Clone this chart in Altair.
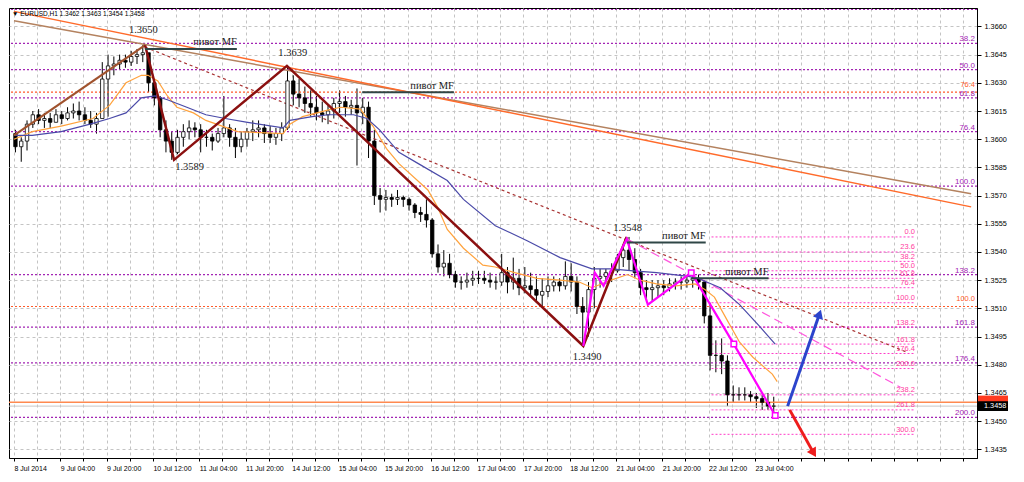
import altair as alt
import pandas as pd

# ---------------- layout ----------------
W, H = 968, 450
X_DOMAIN = [0, 331]
Y_DOMAIN = [1.34304, 1.36698]
FONT = "Liberation Sans, Arial, sans-serif"
SERIF = "Liberation Serif, DejaVu Serif, serif"

# ---------------- data ----------------
title_text = "\u25BC EURUSD,H1  1.3462 1.3463 1.3454 1.3458"

x_tick_labels = ["8 Jul 2014", "9 Jul 04:00", "9 Jul 20:00", "10 Jul 12:00", "11 Jul 04:00",
                 "11 Jul 20:00", "14 Jul 12:00", "15 Jul 04:00", "15 Jul 20:00", "16 Jul 12:00",
                 "17 Jul 04:00", "17 Jul 20:00", "18 Jul 12:00", "21 Jul 04:00", "21 Jul 20:00",
                 "22 Jul 12:00", "23 Jul 04:00"]
y_ticks = [1.3435, 1.3450, 1.3465, 1.3480, 1.3495, 1.3510, 1.3525, 1.3540,
           1.3555, 1.3570, 1.3585, 1.3600, 1.3615, 1.3630, 1.3645, 1.3660]

# price bars (2-hour steps)
high = [1.3605, 1.3601, 1.3610, 1.3615, 1.3616, 1.3614, 1.3614, 1.3616, 1.3615, 1.3617,
        1.3619, 1.3620, 1.3617, 1.3615, 1.3614, 1.3641, 1.3645, 1.3644, 1.3645, 1.3645,
        1.3647, 1.3648, 1.3650, 1.3645, 1.3632, 1.3623, 1.3610, 1.3604, 1.3605, 1.3608,
        1.3610, 1.3609, 1.3608, 1.3605, 1.3603, 1.3606, 1.3623, 1.3608, 1.3606, 1.3604,
        1.3606, 1.3610, 1.3610, 1.3608, 1.3607, 1.3606, 1.3609, 1.3639, 1.3634, 1.3632,
        1.3628, 1.3626, 1.3623, 1.3620, 1.3618, 1.3622, 1.3626, 1.3623, 1.3621, 1.3627,
        1.3622, 1.3620, 1.3605, 1.3574, 1.3573, 1.3571, 1.3573, 1.3570, 1.3569, 1.3566,
        1.3564, 1.3568, 1.3558, 1.3544, 1.3541, 1.3539, 1.3530, 1.3527, 1.3529, 1.3530,
        1.3530, 1.3530, 1.3529, 1.3527, 1.3539, 1.3532, 1.3537, 1.3531, 1.3532, 1.3529,
        1.3527, 1.3526, 1.3527, 1.3527, 1.3526, 1.3535, 1.3534, 1.3527, 1.3516, 1.3524,
        1.3532, 1.3531, 1.3531, 1.3534, 1.3539, 1.3544, 1.3548, 1.3542, 1.3531, 1.3525,
        1.3525, 1.3525, 1.3525, 1.3526, 1.3526, 1.3527, 1.3527, 1.3529, 1.3528, 1.3525,
        1.3513, 1.3493, 1.3494, 1.3485, 1.3469, 1.3468, 1.3468, 1.3466, 1.3465, 1.3464,
        1.3465, 1.3463]
low = [1.3593, 1.3588, 1.3594, 1.3606, 1.3608, 1.3606, 1.3606, 1.3609, 1.3608, 1.3610,
       1.3611, 1.3610, 1.3608, 1.3606, 1.3603, 1.3615, 1.3612, 1.3634, 1.3637, 1.3638,
       1.3639, 1.3640, 1.3641, 1.3625, 1.3618, 1.3601, 1.3593, 1.3589, 1.3592, 1.3596,
       1.3600, 1.3601, 1.3593, 1.3596, 1.3594, 1.3598, 1.3601, 1.3596, 1.3590, 1.3593,
       1.3596, 1.3599, 1.3601, 1.3598, 1.3598, 1.3597, 1.3599, 1.3605, 1.3618, 1.3617,
       1.3614, 1.3612, 1.3610, 1.3609, 1.3608, 1.3611, 1.3614, 1.3612, 1.3613, 1.3586,
       1.3608, 1.3590, 1.3565, 1.3561, 1.3562, 1.3564, 1.3565, 1.3564, 1.3562, 1.3558,
       1.3556, 1.3553, 1.3537, 1.3529, 1.3527, 1.3526, 1.3521, 1.3520, 1.3521, 1.3522,
       1.3523, 1.3523, 1.3521, 1.3520, 1.3522, 1.3518, 1.3520, 1.3517, 1.3518, 1.3516,
       1.3513, 1.3511, 1.3516, 1.3519, 1.3519, 1.3520, 1.3519, 1.3507, 1.3490, 1.3495,
       1.3510, 1.3521, 1.3523, 1.3524, 1.3529, 1.3532, 1.3530, 1.3526, 1.3517, 1.3515,
       1.3514, 1.3516, 1.3517, 1.3519, 1.3520, 1.3520, 1.3521, 1.3521, 1.3520, 1.3502,
       1.3477, 1.3476, 1.3475, 1.3458, 1.3460, 1.3461, 1.3461, 1.3460, 1.3457, 1.3456,
       1.3456, 1.3454]
close = [1.3596, 1.3599, 1.3608, 1.3613, 1.3610, 1.3611, 1.3609, 1.3613, 1.3611, 1.3614,
         1.3615, 1.3613, 1.3610, 1.3608, 1.3611, 1.3632, 1.3639, 1.3640, 1.3642, 1.3641,
         1.3644, 1.3645, 1.3646, 1.3630, 1.3622, 1.3605, 1.3599, 1.3593, 1.3601, 1.3604,
         1.3606, 1.3605, 1.3601, 1.3601, 1.3599, 1.3603, 1.3606, 1.3601, 1.3596, 1.3600,
         1.3604, 1.3605, 1.3606, 1.3603, 1.3601, 1.3603, 1.3606, 1.3631, 1.3624, 1.3622,
         1.3619, 1.3617, 1.3614, 1.3613, 1.3615, 1.3619, 1.3620, 1.3617, 1.3618, 1.3614,
         1.3617, 1.3599, 1.3570, 1.3568, 1.3569, 1.3568, 1.3569, 1.3568, 1.3565, 1.3561,
         1.3560, 1.3557, 1.3539, 1.3532, 1.3534, 1.3528, 1.3524, 1.3524, 1.3525, 1.3526,
         1.3526, 1.3525, 1.3524, 1.3524, 1.3529, 1.3524, 1.3526, 1.3521, 1.3522, 1.3520,
         1.3517, 1.3519, 1.3522, 1.3524, 1.3522, 1.3527, 1.3524, 1.3511, 1.3508, 1.3520,
         1.3526, 1.3527, 1.3529, 1.3530, 1.3537, 1.3541, 1.3536, 1.3529, 1.3521, 1.3520,
         1.3521, 1.3522, 1.3521, 1.3523, 1.3524, 1.3524, 1.3525, 1.3526, 1.3524, 1.3506,
         1.3485, 1.3485, 1.3482, 1.3464, 1.3464, 1.3464, 1.3464, 1.3463, 1.3462, 1.3460,
         1.3458, 1.3458]
first_open = 1.3603

# moving averages (bar index, price)
fast_idx = [0, 6.3, 16.3, 27.3, 29.7, 33, 38.7, 44, 46.3, 49.7, 53, 56.3, 62, 66.3, 77.3,
            93, 95.3, 99.7, 104.7, 109.7, 113, 119.7, 124, 128.7, 133, 143, 146.3, 149.7,
            155.3, 162, 166.3, 173, 180.7, 188.7, 195.3, 199.7, 206.3, 212, 216.3, 222,
            228.7, 235.3, 238.7, 242, 246.3, 250.7, 255.3, 262, 263.7]
fast_ma = [1.3600, 1.3604, 1.3607, 1.3611, 1.3614, 1.3618, 1.3630, 1.3634, 1.3634, 1.3631,
           1.3623, 1.3617, 1.3614, 1.3610, 1.3604, 1.3603, 1.3608, 1.3612, 1.3614, 1.3616,
           1.3617, 1.3616, 1.3607, 1.3595, 1.3587, 1.3573, 1.3564, 1.3552, 1.3542, 1.3533,
           1.3532, 1.3529, 1.3526, 1.3525, 1.3524, 1.3521, 1.3525, 1.3528, 1.3525, 1.3523,
           1.3522, 1.3523, 1.3520, 1.3516, 1.3504, 1.3492, 1.3484, 1.3475, 1.3471]
slow_idx = [0, 6.3, 16.3, 26.3, 33, 38.7, 44, 48.7, 53, 59.7, 66.3, 73, 80.7, 93, 95.3,
            103, 108.7, 113, 117.3, 122, 126.3, 133, 139.7, 149.7, 155.3, 166.3, 177.3,
            188.7, 199.7, 206.3, 214, 222, 233, 236.3, 244, 250.7, 257.3, 263]
slow_ma = [1.3602, 1.3602, 1.3604, 1.3608, 1.3611, 1.3614, 1.3622, 1.3623, 1.3621, 1.3617,
           1.3613, 1.3611, 1.3609, 1.3606, 1.3610, 1.3612, 1.3613, 1.3613, 1.3613, 1.3611,
           1.3605, 1.3593, 1.3587, 1.3578, 1.3568, 1.3554, 1.3546, 1.3537, 1.3531, 1.3531,
           1.3530, 1.3529, 1.3527, 1.3526, 1.3521, 1.3512, 1.3501, 1.3491]

# zigzags
zz_first_idx = [0, 45.3]
zz_first = [1.3602, 1.3650]
zz_main_idx = [45.3, 55.3, 94.3, 196.7, 211.7]
zz_main = [1.3650, 1.3589, 1.3639, 1.3490, 1.3548]
zz_mag_idx = [196.7, 200.7, 203.7, 211.7, 219.0, 234.0, 248.7, 263.0]
zz_mag = [1.3490, 1.3529, 1.3522, 1.3547, 1.3512, 1.3529, 1.3491, 1.3453]
sq_idx = [234.0, 248.7, 263.0]
sq_price = [1.3529, 1.3491, 1.3453]

# trend lines
tan_idx, tan_price = [0, 330.7], [1.3663, 1.3571]
org_idx, org_price = [0, 330.7], [1.3668, 1.3564]
dot_idx, dot_price = [45.3, 308.0], [1.3649, 1.3487]
pink_idx, pink_price = [211.7, 306.3], [1.3547, 1.3468]

# full-width fibo levels
top_level = 1.3669
purple_levels = [1.3651, 1.3637, 1.3622, 1.3604, 1.3575, 1.3528, 1.3500, 1.3481, 1.3452]
purple_labels = ["38.2", "50.0", "61.8", "76.4", "100.0", "138.2", "161.8", "176.4", "200.0"]
orange_levels = [1.3625, 1.3511]
orange_labels = ["76.4", "100.0"]

# short fibo set
fib2_start, fib2_end = 241.0, 311.3
fib2_levels = [1.3548, 1.3540, 1.3535, 1.3530, 1.3526, 1.3521, 1.3513, 1.3500, 1.3491,
               1.3486, 1.3478, 1.3464, 1.3456, 1.3443]
fib2_labels = ["0.0", "23.6", "38.2", "50.0", "61.8", "76.4", "100.0", "138.2", "161.8",
               "176.4", "200.0", "238.2", "261.8", "300.0"]

# pivot MF lines
piv_x0 = [45.3, 120.3, 211.7, 234.0]
piv_x1 = [77.0, 152.0, 239.0, 260.7]
piv_price = [1.3648, 1.3625, 1.3545, 1.3526]
piv_text = "пивот MF"

# price labels at swing points
sw_text = ["1.3650", "1.3589", "1.3639", "1.3490", "1.3548"]
sw_idx = [44.7, 60.7, 96.3, 198.0, 212.0]
sw_price = [1.3658, 1.3585, 1.3646, 1.3484, 1.3553]

# arrows
up_idx, up_price = [267.3, 278.3], [1.3458, 1.3507]
dn_idx, dn_price = [268.0, 276.3], [1.3456, 1.3433]

# current price lines
ask_line, bid_line = 1.3460, 1.3458
box_red, box_black = 1.3461, 1.3458

# ---------------- chart ----------------
xs = alt.Scale(domain=X_DOMAIN, nice=False, zero=False)
ys = alt.Scale(domain=Y_DOMAIN, nice=False, zero=False)

lab_js = "[" + ",".join("'" + s + "'" for s in x_tick_labels) + "]"
x_axis = alt.Axis(values=list(range(0, 331, 8)),
                  labelExpr=f"datum.value % 16 == 0 ? {lab_js}[datum.value / 16] : ''",
                  orient="bottom", grid=True, gridColor="#c4c4c4", gridDash=[3, 3],
                  tickSize=3, tickColor="black", domainColor="black", labelAlign="left",
                  labelFont=FONT, labelFontSize=7, labelColor="black", labelPadding=3,
                  labelOverlap=False, labelFlush=False, title=None)
y_axis = alt.Axis(values=y_ticks, format=".4f", orient="right", grid=True,
                  gridColor="#c4c4c4", gridDash=[3, 3], tickSize=4, tickColor="black",
                  domainColor="black", labelFont=FONT, labelFontSize=7.3,
                  labelColor="black", labelPadding=3, labelOverlap=False,
                  labelFlush=False, title=None)


def Xe(f="idx"):
    return alt.X(f + ":Q", scale=xs, axis=x_axis, title=None)


def Ye(f="price"):
    return alt.Y(f + ":Q", scale=ys, axis=y_axis, title=None)


opens = [first_open] + close[:-1]
candles = pd.DataFrame({"idx": [2 * k + 0.5 for k in range(len(close))],
                        "open": opens, "high": high, "low": low, "close": close})

# horizontal full-width levels
tdf = pd.DataFrame({"price": [top_level]})
pdf = pd.DataFrame({"price": purple_levels, "label": purple_labels})
odf = pd.DataFrame({"price": orange_levels, "label": orange_labels})
top_rule = alt.Chart(tdf).mark_rule(color="#a324b4", strokeDash=[2, 2], strokeWidth=1.2).encode(y=Ye())
purple_rules = alt.Chart(pdf).mark_rule(color="#a324b4", strokeDash=[2, 2], strokeWidth=1.2).encode(y=Ye())
purple_text = alt.Chart(pdf).mark_text(align="right", baseline="bottom", dy=0, font=FONT,
                                       fontSize=8, color="#a324b4").encode(
    x=alt.value(W - 2), y=Ye(), text="label:N")
orange_rules = alt.Chart(odf).mark_rule(color="#ff5a28", strokeDash=[2, 2], strokeWidth=1.2).encode(y=Ye())
orange_text = alt.Chart(odf).mark_text(align="right", baseline="bottom", dy=-3, font=FONT,
                                       fontSize=7.5, color="#ff5a28").encode(
    x=alt.value(W - 2), y=Ye(), text="label:N")

# short fib set
f2 = pd.DataFrame({"price": fib2_levels, "label": fib2_labels,
                   "x0": fib2_start, "x1": fib2_end})
fib2_rules = alt.Chart(f2).mark_rule(color="#ff3cc8", strokeDash=[2, 2], strokeWidth=1).encode(
    x=Xe("x0"), x2="x1:Q", y=Ye())
fib2_text = alt.Chart(f2).mark_text(align="right", baseline="bottom", dy=-0.5, font=FONT,
                                    fontSize=7.5, color="#ff3ca0").encode(
    x=Xe("x1"), y=Ye(), text="label:N")

# current price lines
cur = pd.DataFrame({"price": [ask_line]})
bid = pd.DataFrame({"price": [bid_line]})
ask_rule = alt.Chart(cur).mark_rule(color="#ff8a50", strokeWidth=1.5).encode(y=Ye())
bid_rule = alt.Chart(bid).mark_rule(color="#c8c8c8", strokeWidth=1).encode(y=Ye())

# candles
rule_layer = alt.Chart(candles).mark_rule(color="black", strokeWidth=1).encode(
    x=Xe(), y=Ye("low"), y2="high:Q")
body_layer = alt.Chart(candles).mark_bar(width=3.4, stroke="black", strokeWidth=0.8).encode(
    x=Xe(), y=Ye("open"), y2="close:Q",
    fill=alt.condition("datum.close >= datum.open", alt.value("white"), alt.value("black")))


def line(idx, price, color, width, dash=None):
    df = pd.DataFrame({"idx": idx, "price": price})
    kw = dict(color=color, strokeWidth=width, clip=True)
    if dash is not None:
        kw["strokeDash"] = dash
    return alt.Chart(df).mark_line(**kw).encode(x=Xe(), y=Ye(), order="idx:Q")


fast_line = line(fast_idx, fast_ma, "#ffa23c", 1.2)
slow_line = line(slow_idx, slow_ma, "#4a4aa8", 1.2)
tan_line = line(tan_idx, tan_price, "#b4825f", 1.5)
org_line = line(org_idx, org_price, "#ff6a2a", 1.5)
dot_line = line(dot_idx, dot_price, "#a83232", 1.2, [3, 3])
pink_line = line(pink_idx, pink_price, "#ff55dd", 1.2, [9, 5])
zz1 = line(zz_first_idx, zz_first, "#a0522d", 2.2)
zz2 = line(zz_main_idx, zz_main, "#8b1010", 2.5)
zzm = line(zz_mag_idx, zz_mag, "#ff00ff", 2.2)
up_line = line(up_idx, up_price, "#2c44cc", 3)
dn_line = line(dn_idx, dn_price, "#ee1c1c", 3)

up_head = alt.Chart(pd.DataFrame({"idx": [up_idx[-1]], "price": [up_price[-1]]})).mark_point(
    shape="triangle-up", size=110, filled=True, color="#2c44cc", angle=19, opacity=1).encode(x=Xe(), y=Ye())
dn_head = alt.Chart(pd.DataFrame({"idx": [dn_idx[-1]], "price": [dn_price[-1]]})).mark_point(
    shape="triangle-up", size=110, filled=True, color="#ee1c1c", angle=149, opacity=1).encode(x=Xe(), y=Ye())

squares = alt.Chart(pd.DataFrame({"idx": sq_idx, "price": sq_price})).mark_point(
    shape="square", size=30, filled=True, fill="white", stroke="#ff00ff", strokeWidth=1.5,
    opacity=1).encode(x=Xe(), y=Ye())

# pivot MF
pv = pd.DataFrame({"x0": piv_x0, "x1": piv_x1, "price": piv_price, "t": piv_text})
piv_rules = alt.Chart(pv).mark_rule(color="#2f4646", strokeWidth=2).encode(
    x=Xe("x0"), x2="x1:Q", y=Ye())
piv_labels = alt.Chart(pv).mark_text(align="right", baseline="bottom", dy=-1.5, font=SERIF,
                                     fontSize=10.5, color="#1a1a1a").encode(
    x=Xe("x1"), y=Ye(), text="t:N")

sw = pd.DataFrame({"idx": sw_idx, "price": sw_price, "t": sw_text})
sw_labels = alt.Chart(sw).mark_text(align="center", baseline="middle", font=SERIF,
                                    fontSize=10.5, color="#1a1a1a").encode(
    x=Xe(), y=Ye(), text="t:N")

# axis price boxes
bx = pd.DataFrame({"price": [box_red, box_black], "t": [f"{box_red:.4f}", f"{box_black:.4f}"]})
bx = bx.assign(lo=bx.price - 0.00026, hi=bx.price + 0.00026)
red_box = alt.Chart(bx.iloc[[0]]).mark_rect(color="#ff3b1f").encode(
    x=alt.value(W + 1), x2=alt.value(W + 31), y=Ye("lo"), y2="hi:Q")
black_box = alt.Chart(bx.iloc[[1]]).mark_rect(color="black").encode(
    x=alt.value(W + 1), x2=alt.value(W + 31), y=Ye("lo"), y2="hi:Q")
black_text = alt.Chart(bx.iloc[[1]]).mark_text(align="left", baseline="middle", font=FONT,
                                               fontSize=7.3, color="white").encode(
    x=alt.value(W + 7), y=Ye(), text="t:N")

title_layer = alt.Chart(pd.DataFrame({"t": [title_text]})).mark_text(
    align="left", baseline="top", font=FONT, fontSize=6.5, color="black").encode(
    x=alt.value(3), y=alt.value(3), text="t:N")

chart = alt.layer(
    rule_layer, top_rule, purple_rules, orange_rules, fib2_rules, bid_rule, ask_rule,
    purple_text, orange_text, fib2_text,
    tan_line, org_line, dot_line, pink_line,
    body_layer, fast_line, slow_line,
    zz1, zz2, zzm, squares, up_line, dn_line, up_head, dn_head,
    piv_rules, piv_labels, sw_labels,
    red_box, black_box, black_text, title_layer,
).properties(width=W, height=H, padding=0, background="white").configure_view(
    stroke="black", strokeWidth=1)

chart.save("out.html", embed_options={"renderer": "svg", "actions": False})
